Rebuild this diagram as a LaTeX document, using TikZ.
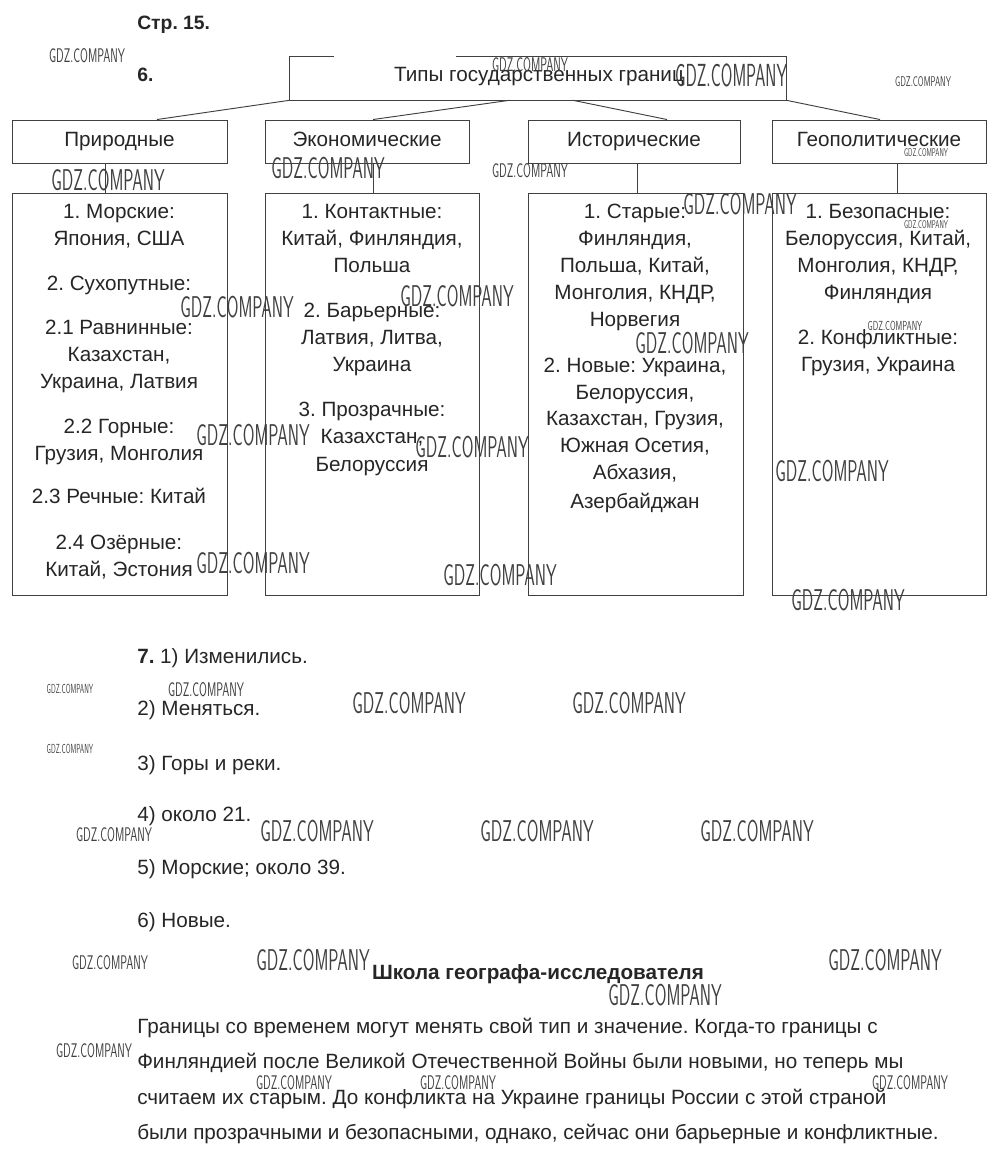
\documentclass[tikz,border=0pt]{standalone}
\usepackage{fontspec}
\usepackage{graphicx}
\setmainfont{Liberation Sans}
\frenchspacing
\usetikzlibrary{calc}
\tikzset{
  ln/.style={draw=black!75, line width=0.7pt},
  box2/.style={ln, minimum height=32.25pt, inner sep=0pt, text height=11pt, text depth=3.8pt, font=\fontsize{15.5}{18}\selectfont, text=black!85},
  box3/.style={ln, minimum height=301.5pt, inner sep=0pt},
  txt/.style={inner sep=0pt, anchor=mid, yshift=-2.5pt, font=\fontsize{15.5}{18}\selectfont, text=black!85},
  ltxt/.style={inner sep=0pt, anchor=mid west, yshift=-2.5pt, font=\fontsize{15.5}{18}\selectfont, text=black!85},
  wm/.style={inner sep=0pt, text=black!75, font=\fontfamily{lmss}\fontsize{20}{20}\selectfont}
}
\newcommand\wmark[5]{\node[wm] (#1) at (#2,#3) {\resizebox{#4pt}{#5pt}{GDZ.COMPANY}};}
\begin{document}
\begin{tikzpicture}[x=0.75pt,y=-0.75pt]
\useasboundingbox (0,0) rectangle (1000,1159);
\fill[white] (0,0) rectangle (1000,1159);

% headings
\node[ltxt, font=\fontsize{14.5}{16}\selectfont\bfseries] (str) at (137,23) {Стр. 15.};
\node[ltxt, font=\fontsize{14.5}{16}\selectfont\bfseries] (six) at (137,75) {6.};

% top box
\node[minimum width=372pt, minimum height=32.25pt, inner sep=0pt] (top) at (538,78.5) {};
\node[txt] (toptxt) at (539,75) {Типы государственных границ};
\draw[ln] ($(top.north west)+(44,0)$) -- (top.north west) -- (top.south west) -- (top.south east) -- (top.north east) -- ++(-330,0);

% level 2
\node[box2, minimum width=161.25pt] (prir) at (119.5,141.5) {Природные};
\node[box2, minimum width=153pt] (econ) at (367,141.5) {Экономические};
\node[box2, minimum width=159pt] (hist) at (634,141.5) {Исторические};
\node[box2, minimum width=160.5pt] (geo) at (879,141.5) {Геополитические};

\draw[ln] (top.south west) -- ($(prir.north)+(37.5,0)$);
\draw[ln] ($(top.south west)+(220,0)$) -- ($(econ.north)+(6,0)$);
\draw[ln] ($(top.south west)+(283,0)$) -- ($(hist.north)+(33,0)$);
\draw[ln] (top.south east) -- ($(geo.north)+(1,0)$);

% level 3
\node[box3, minimum width=161.25pt] (pbox) at (119.5,394) {};
\node[box3, minimum width=160.5pt] (ebox) at (372,394) {};
\node[box3, minimum width=161.25pt] (hbox) at (635.5,394) {};
\node[box3, minimum width=160.5pt] (gbox) at (879,394) {};

\draw[ln] ($(prir.south)+(-14.5,0)$) -- ($(prir.south)+(-14.5,30)$);
\draw[ln] ($(econ.south)+(6,0)$) -- ($(econ.south)+(6,30)$);
\draw[ln] ($(hist.south)+(3,0)$) -- ($(hist.south)+(3,30)$);
\draw[ln] ($(geo.south)+(18,0)$) -- ($(geo.south)+(18,30)$);

\foreach \t/\y [count=\i] in {{1. Морские:}/212, {Япония, США}/239, {2. Сухопутные:}/284, {2.1 Равнинные:}/328, {Казахстан,}/355, {Украина, Латвия}/382, {2.2 Горные:}/427, {Грузия, Монголия}/454, {2.3 Речные: Китай}/497, {2.4 Озёрные:}/543, {Китай, Эстония}/570}
  \node[txt] (pt\i) at (119,\y) {\t};
\foreach \t/\y [count=\i] in {{1. Контактные:}/212, {Китай, Финляндия,}/239, {Польша}/266, {2. Барьерные:}/311, {Латвия, Литва,}/338, {Украина}/365, {3. Прозрачные:}/410, {Казахстан,}/437, {Белоруссия}/465}
  \node[txt] (et\i) at (372,\y) {\t};
\foreach \t/\y [count=\i] in {{1. Старые:}/212, {Финляндия,}/239, {Польша, Китай,}/266, {Монголия, КНДР,}/293, {Норвегия}/320, {2. Новые: Украина,}/366, {Белоруссия,}/393, {Казахстан, Грузия,}/419, {Южная Осетия,}/446, {Абхазия,}/473, {Азербайджан}/502}
  \node[txt] (ht\i) at (635,\y) {\t};
\foreach \t/\y [count=\i] in {{1. Безопасные:}/212, {Белоруссия, Китай,}/239, {Монголия, КНДР,}/266, {Финляндия}/293, {2. Конфликтные:}/338, {Грузия, Украина}/365}
  \node[txt] (gt\i) at (878,\y) {\t};

% task 7
\node[ltxt] (a1) at (137,657) {\textbf{7.} 1) Изменились.};
\node[ltxt] (a2) at (137,709) {2) Меняться.};
\node[ltxt] (a3) at (137,764) {3) Горы и реки.};
\node[ltxt] (a4) at (137,815) {4) около 21.};
\node[ltxt] (a5) at (137,868) {5) Морские; около 39.};
\node[ltxt] (a6) at (137,921) {6) Новые.};

\node[txt, font=\fontsize{15.5}{18}\selectfont\bfseries] (school) at (538,973) {Школа географа-исследователя};
\node[ltxt] (p1) at (137,1027) {Границы со временем могут менять свой тип и значение. Когда-то границы с};
\node[ltxt] (p2) at (137,1062) {Финляндией после Великой Отечественной Войны были новыми, но теперь мы};
\node[ltxt] (p3) at (137,1098) {считаем их старым. До конфликта на Украине границы России с этой страной};
\node[ltxt] (p4) at (137,1133) {были прозрачными и безопасными, однако, сейчас они барьерные и конфликтные.};

% watermarks
\wmark{w1}{731}{75}{84}{17}
\wmark{w2}{108}{180}{85}{16}
\wmark{w3}{328}{168}{85}{16}
\wmark{w4}{530}{65}{57}{10.5}
\wmark{w5}{923}{82}{42}{7.5}
\wmark{w6}{530}{171}{57}{10.5}
\wmark{w7}{926}{153}{33}{6}
\wmark{w8}{740}{204}{85}{16}
\wmark{w9}{926}{225}{33}{6}
\wmark{w10}{237}{307}{85}{16}
\wmark{w11}{457}{296}{85}{16}
\wmark{w12}{692}{343}{85}{16}
\wmark{w13}{895}{326}{41}{7}
\wmark{w14}{253}{435}{85}{16}
\wmark{w15}{472}{447}{85}{16}
\wmark{w16}{832}{471}{85}{16}
\wmark{w17}{253}{563}{85}{16}
\wmark{w18}{500}{575}{85}{16}
\wmark{w19}{848}{600}{85}{16}
\wmark{w20}{70}{689}{35}{7}
\wmark{w21}{206}{690}{57}{10.5}
\wmark{w22}{409}{703}{85}{16}
\wmark{w23}{629}{703}{85}{16}
\wmark{w24}{70}{749}{35}{7}
\wmark{w25}{114}{835}{57}{10.5}
\wmark{w26}{317}{831}{85}{16}
\wmark{w27}{537}{831}{85}{16}
\wmark{w28}{757}{831}{85}{16}
\wmark{w29}{110}{963}{57}{10.5}
\wmark{w30}{313}{960}{85}{16}
\wmark{w31}{885}{960}{85}{16}
\wmark{w32}{665}{995}{85}{16}
\wmark{w33}{94}{1051}{57}{10.5}
\wmark{w34}{294}{1083}{57}{10.5}
\wmark{w35}{458}{1083}{57}{10.5}
\wmark{w36}{910}{1083}{57}{10.5}
\wmark{w37}{87}{56}{57}{10.5}
\end{tikzpicture}
\end{document}
